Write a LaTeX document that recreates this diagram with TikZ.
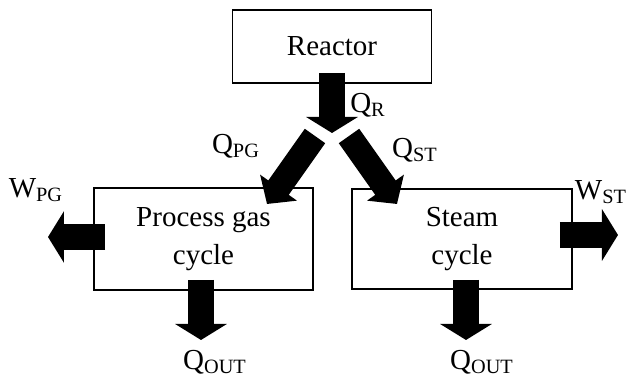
\documentclass[tikz,border=0pt]{standalone}
\usepackage{fontspec}
\setmainfont{Liberation Serif}
\usetikzlibrary{arrows.meta}
\tikzset{
  box/.style={draw, line width=0.9pt, align=center, inner sep=0pt},
  flow/.style={line width=13pt, -{Triangle[length=8pt, width=25.5pt]}},
  slant/.style={line width=12.5pt, -{Triangle[length=10pt, width=22pt]}}
}
\begin{document}
\begin{tikzpicture}[x=0.5pt, y=-0.5pt, font=\fontsize{14.5}{19}\selectfont]
  \useasboundingbox (0,0) rectangle (629,378);
  % 方框
  \node[box, minimum width=99.5pt, minimum height=36.5pt] (reactor) at (332,46.5) {Reactor};
  \node[box, minimum width=109.5pt, minimum height=51pt] (pgc) at (203.5,239) {Process gas\\cycle};
  \node[box, minimum width=110pt, minimum height=50pt] (stc) at (462,239) {Steam\\cycle};

  % 箭头端点
  \coordinate (qr-end) at (332,133);
  \coordinate (pg-start) at (315,136);
  \coordinate (pg-end) at (267,204);
  \coordinate (st-start) at (349,136);
  \coordinate (st-end) at (397,204);
  \coordinate (wpg-end) at (48,237);
  \coordinate (wst-end) at (618,235);
  \coordinate (qout1-end) at (201,340);
  \coordinate (qout2-end) at (466,340);

  % 热流
  \draw[flow] ([yshift=5.5pt]reactor.south) -- (qr-end);
  \draw[slant] (pg-start) -- (pg-end);
  \draw[slant] (st-start) -- (st-end);
  \draw[flow] ([xshift=6pt,yshift=1pt]pgc.west) -- (wpg-end);
  \draw[flow] ([xshift=-6.5pt,yshift=2pt]stc.east) -- (wst-end);
  \draw[flow] ([xshift=-1.25pt,yshift=5.5pt]pgc.south) -- (qout1-end);
  \draw[flow] ([xshift=2pt,yshift=5pt]stc.south) -- (qout2-end);

  % 标注
  \node (qr) at (368,105) {Q\textsubscript{R}};
  \node (qpg) at (236,146) {Q\textsubscript{PG}};
  \node (qst) at (415,150) {Q\textsubscript{ST}};
  \node (wpg) at (36,190) {W\textsubscript{PG}};
  \node (wst) at (601,192) {W\textsubscript{ST}};
  \node (qout1) at (215,362) {Q\textsubscript{OUT}};
  \node (qout2) at (482,362) {Q\textsubscript{OUT}};
\end{tikzpicture}
\end{document}
